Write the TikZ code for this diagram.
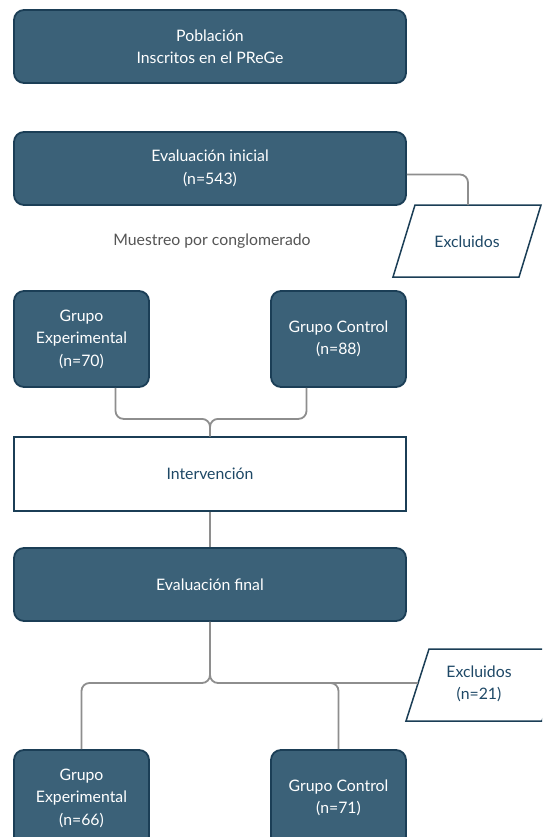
\documentclass[tikz,border=0pt]{standalone}
\usepackage{fontspec}
\setmainfont{Lato}
\definecolor{boxfill}{HTML}{3B6178}
\definecolor{boxline}{HTML}{1B3E56}
\definecolor{darktext}{HTML}{1E4866}
\definecolor{conncol}{HTML}{8E8E8E}
\definecolor{graytext}{HTML}{555555}
\begin{document}
\begin{tikzpicture}[x=1pt,y=1pt,
  txt/.style={font=\fontsize{15.8}{22.5}\selectfont},
  darkbox/.style={txt, draw=boxline, line width=1.8pt, fill=boxfill, rounded corners=10pt,
    text=white, align=center, inner sep=0pt},
  widebox/.style={darkbox, minimum width=392, minimum height=73},
  smallbox/.style={darkbox, minimum width=135, minimum height=96},
  plainbox/.style={txt, draw=boxline, line width=1.5pt, fill=white, text=darktext,
    align=center, minimum width=392, minimum height=74},
  para/.style={draw=boxline, line width=1.5pt, fill=white},
  paratext/.style={txt, text=darktext, align=center},
  conn/.style={draw=conncol, line width=1.8pt, rounded corners=8pt}]
\clip (0,0) rectangle (542,-837);
\fill[white] (0,0) rectangle (542,-837);

\node[widebox] (pob) at (210,-46.5) {Población\\Inscritos en el PReGe};
\node[widebox] (ei) at (210,-168.5) {Evaluación inicial\\(n=543)};

% Excluidos 1
\draw[para] (415,-205) -- (541,-205) -- (519,-277) -- (393,-277) -- cycle;
\node[paratext] (ex1) at (467,-242) {Excluidos};
\coordinate (ex1top) at (468,-205);
\draw[conn] ([yshift=-6pt]ei.east) -| (ex1top);

\node[txt, text=graytext] (mu) at (212,-241) {Muestreo por conglomerado};

\node[smallbox] (ge1) at (81.5,-339) {Grupo\\Experimental\\(n=70)};
\node[smallbox] (gc1) at (338.5,-339) {Grupo Control\\(n=88)};

\node[plainbox] (int) at (210,-474) {Intervención};

\draw[conn] ([xshift=34pt]ge1.south) -- ++(0,-31) -| (int.north);
\draw[conn] ([xshift=-32pt]gc1.south) -- ++(0,-31) -| (int.north);

\node[widebox] (ef) at (210,-584.5) {Evaluación final};
\draw[conn] (int.south) -- (ef.north);

\node[smallbox] (ge2) at (81.5,-798) {Grupo\\Experimental\\(n=66)};
\node[smallbox] (gc2) at (338.5,-798) {Grupo Control\\(n=71)};

% Excluidos 2
\draw[para] (429,-649) -- (565,-649) -- (542,-721) -- (406,-721) -- cycle;
\node[paratext] (ex2) at (479,-684) {Excluidos\\(n=21)};
\coordinate (ex2left) at (418,-683);

\coordinate (jn) at (210,-683);
\draw[conn] (ef.south) -- (jn) -| (ge2.north);
\draw[conn] (ef.south) -- (jn) -| (gc2.north);
\draw[draw=conncol, line width=1.8pt] (320,-683) -- (ex2left);
\end{tikzpicture}
\end{document}
